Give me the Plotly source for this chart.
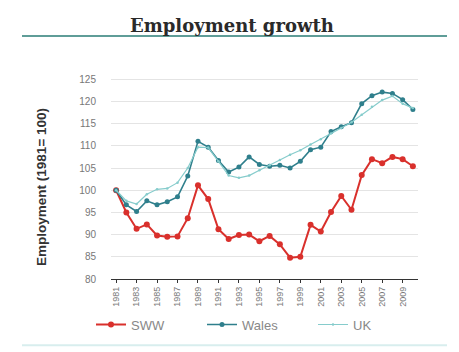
import plotly.graph_objects as go

years = [str(y) for y in range(1981, 2011)]
tick_years = [str(y) for y in range(1981, 2010, 2)]

sww = [100, 95.0, 91.3, 92.3, 89.8, 89.5, 89.6, 93.7, 101.1, 98.0,
       91.2, 89.0, 89.9, 90.0, 88.5, 89.7, 87.8, 84.8, 85.0, 92.2,
       90.7, 95.1, 98.7, 95.6, 103.4, 107.0, 106.1, 107.5, 107.0, 105.4]
wales = [100, 96.7, 95.2, 97.6, 96.7, 97.4, 98.5, 103.2, 111.0, 109.7,
         106.7, 104.1, 105.2, 107.5, 105.8, 105.4, 105.6, 105.0, 106.5, 109.1,
         109.7, 113.2, 114.3, 115.2, 119.5, 121.3, 122.1, 121.8, 120.4, 118.2]
uk = [100, 97.6, 96.9, 99.1, 100.2, 100.4, 101.7, 105.0, 109.7, 109.6,
      106.5, 103.3, 102.8, 103.3, 104.5, 105.6, 106.8, 108.0, 109.0, 110.3,
      111.5, 112.8, 114.0, 115.3, 117.0, 118.8, 120.3, 121.2, 119.5, 118.5]

RED = "#d9302c"
WALES = "#2f7f8c"
UK = "#86cccc"

# plot-area geometry in pixels (used for paper-coordinate placements)
L, R, T, B = 111, 418, 77, 281
W, H = R - L, B - T


def px_x(px):
    return (px - L) / W


def px_y(py):
    return (B - py) / H


fig = go.Figure()
fig.add_trace(go.Scatter(x=years, y=sww, name="SWW", mode="lines+markers",
                         line=dict(color=RED, width=2),
                         marker=dict(color=RED, size=6, symbol="circle")))
fig.add_trace(go.Scatter(x=years, y=wales, name="Wales", mode="lines+markers",
                         line=dict(color=WALES, width=1.6),
                         marker=dict(color=WALES, size=5, symbol="circle")))
fig.add_trace(go.Scatter(x=years, y=uk, name="UK", mode="lines+markers",
                         line=dict(color=UK, width=1.2),
                         marker=dict(color=UK, size=2.5, symbol="circle")))

fig.update_layout(
    width=459, height=352,
    margin=dict(l=L, r=459 - R, t=T, b=352 - B),
    paper_bgcolor="white", plot_bgcolor="white",
    font=dict(family="Liberation Sans, Arial, sans-serif", color="#777777"),
    showlegend=True,
    legend=dict(orientation="h", x=px_x(91), xanchor="left", y=px_y(327), yanchor="middle",
                font=dict(size=13, color="#888888"), entrywidth=66,
                bgcolor="rgba(0,0,0,0)"),
    xaxis=dict(type="category", tickmode="array", tickvals=tick_years, ticktext=tick_years,
               tickangle=-90, tickfont=dict(size=9, color="#777777"),
               showline=True, linecolor="#333333", linewidth=1.2,
               ticks="outside", ticklen=3, tickcolor="#333333",
               showgrid=False, range=[-0.5, 29.5]),
    yaxis=dict(range=[80, 125.5], tickmode="array",
               tickvals=[80, 85, 90, 95, 100, 105, 110, 115, 120, 125],
               tickfont=dict(size=10, color="#777777"),
               showgrid=True, gridcolor="#e4e4e4", gridwidth=1,
               zeroline=False, showline=False, ticklabelstandoff=14),
)

# Heading and its rule
fig.add_annotation(text="<b>Employment growth</b>", xref="paper", yref="paper",
                   x=px_x(232), y=px_y(25),
                   showarrow=False, xanchor="center", yanchor="middle",
                   font=dict(family="DejaVu Serif, Liberation Serif, serif", size=18, color="#2a2a2a"))
fig.add_shape(type="line", xref="paper", yref="paper",
              x0=px_x(22), x1=px_x(447), y0=px_y(35.5), y1=px_y(35.5),
              line=dict(color="#5f9d98", width=2))
fig.add_shape(type="line", xref="paper", yref="paper",
              x0=px_x(22), x1=px_x(447), y0=px_y(348), y1=px_y(348),
              line=dict(color="#d8eeee", width=2))

# Vertical axis title
fig.add_annotation(text="<b>Employment (1981= 100)</b>", xref="paper", yref="paper",
                   x=px_x(42), y=px_y(188), textangle=-90,
                   showarrow=False, xanchor="center", yanchor="middle",
                   font=dict(family="Liberation Sans, Arial, sans-serif", size=13.5, color="#333333"))

fig.write_html("out.html")
